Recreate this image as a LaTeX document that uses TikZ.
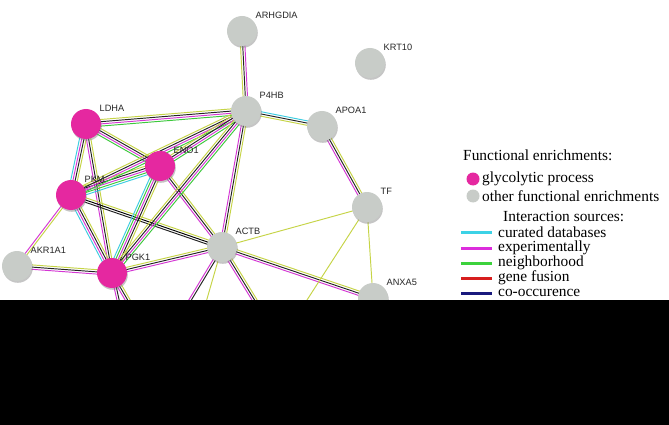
\documentclass[tikz,border=0pt]{standalone}
\usepackage{fontspec}
\setmainfont{Liberation Serif}
\newfontfamily\lblfont{Liberation Sans}
\usetikzlibrary{calc,shadows,backgrounds}
\definecolor{nodeMag}{RGB}{229,40,160}
\definecolor{nodeGrey}{RGB}{200,204,200}
\definecolor{eCyan}{RGB}{60,205,225}
\definecolor{eMag}{RGB}{212,55,212}
\definecolor{eGreen}{RGB}{60,200,60}
\definecolor{eYel}{RGB}{198,212,70}
\definecolor{eBlk}{RGB}{35,35,35}
\definecolor{lCyan}{RGB}{60,210,230}
\definecolor{lMag}{RGB}{220,45,220}
\definecolor{lGreen}{RGB}{60,210,60}
\definecolor{lRed}{RGB}{215,30,30}
\definecolor{lBlue}{RGB}{25,25,125}
\newcommand\linkbundle[3]{%
  \foreach \cc [count=\ii] in {#3} {\xdef\bundlen{\ii}}%
  \foreach \cc [count=\ii] in {#3} {%
    \pgfmathsetmacro\offs{(\ii-(\bundlen+1)/2)*2.2}%
    \draw[eline, draw=\cc] ($(#1.center)!\offs pt!90:(#2.center)$) -- ($(#2.center)!\offs pt!-90:(#1.center)$);
  }%
}
\begin{document}
\begin{tikzpicture}[x=1pt,y=-1pt,
  gene/.style={circle, minimum size=30pt, inner sep=0pt,
    drop shadow={shadow xshift=0.8pt, shadow yshift=-1.8pt, opacity=0.45}},
  glyco/.style={gene, fill=nodeMag},
  other/.style={gene, fill=nodeGrey},
  lbl/.style={font=\lblfont\fontsize{9.2}{11}\selectfont, anchor=west, inner sep=0pt, text=black!85},
  leg/.style={font=\fontsize{15.4}{17}\selectfont, anchor=west, inner sep=0pt},
  eline/.style={line width=0.95pt},
  legline/.style={line width=3pt},
  legdot/.style={circle, minimum size=13pt, inner sep=0pt}]
\useasboundingbox (0,0) rectangle (669,425);
% nodes
\node[other] (ARHGDIA) at (242,31) {};
\node[other] (KRT10) at (370,63) {};
\node[other] (P4HB) at (246,111) {};
\node[other] (APOA1) at (322,126) {};
\node[glyco] (LDHA) at (86,124) {};
\node[glyco] (ENO1) at (160,166) {};
\node[glyco] (PKM) at (71,195) {};
\node[other] (AKR1A1) at (17,266) {};
\node[glyco] (PGK1) at (112,273) {};
\node[other] (ACTB) at (222,247) {};
\node[other] (TF) at (367,207) {};
\node[other] (ANXA5) at (373,298) {};
\coordinate (offTF) at (287,331);
\coordinate (offA1) at (172,330);
\coordinate (offA2) at (198,330);
\coordinate (offA3) at (273,330);
\coordinate (offP1) at (127,340);
\coordinate (offP2) at (148,335);
% labels
\foreach \n in {ARHGDIA,KRT10,P4HB,APOA1,LDHA,ENO1,PKM,AKR1A1,PGK1,ACTB,TF,ANXA5}
  \node[lbl] (\n-t) at ($(\n.center)+(13.5,-15.5)$) {\n};
% edges
\begin{pgfonlayer}{background}
\fill[white] (0,0) rectangle (669,425);
\linkbundle{ARHGDIA}{P4HB}{eYel,eBlk,eMag}
\linkbundle{P4HB}{APOA1}{eYel,eBlk,eCyan}
\linkbundle{APOA1}{TF}{eMag,eBlk,eYel}
\linkbundle{LDHA}{P4HB}{eGreen,eMag,eBlk,eYel}
\linkbundle{LDHA}{ENO1}{eGreen,eMag,eBlk,eYel}
\linkbundle{LDHA}{PKM}{eCyan,eMag,eBlk,eYel}
\linkbundle{LDHA}{PGK1}{eMag,eBlk,eYel}
\linkbundle{PKM}{ENO1}{eCyan,eGreen,eMag,eBlk,eYel}
\linkbundle{PKM}{P4HB}{eGreen,eMag,eBlk,eYel}
\linkbundle{ENO1}{P4HB}{eGreen,eMag,eBlk,eYel}
\linkbundle{PKM}{PGK1}{eCyan,eMag,eBlk,eYel}
\linkbundle{PKM}{AKR1A1}{eMag,eYel}
\linkbundle{PKM}{ACTB}{eBlk,,eYel}
\linkbundle{ENO1}{PGK1}{eCyan,eGreen,eMag,eBlk,eYel}
\linkbundle{ENO1}{ACTB}{eMag,eBlk,eYel}
\linkbundle{PGK1}{P4HB}{eGreen,eMag,eBlk,eYel}
\linkbundle{P4HB}{ACTB}{eMag,eBlk,eYel}
\linkbundle{PGK1}{ACTB}{eMag,eBlk,eYel}
\linkbundle{AKR1A1}{PGK1}{eMag,eBlk,eYel}
\linkbundle{ACTB}{TF}{eYel}
\linkbundle{ACTB}{ANXA5}{eMag,eBlk,eYel}
\linkbundle{TF}{ANXA5}{eYel}
\linkbundle{TF}{offTF}{eYel}
\linkbundle{ACTB}{offA1}{eMag,eBlk}
\linkbundle{ACTB}{offA2}{eYel}
\linkbundle{ACTB}{offA3}{eMag,eBlk,eYel}
\linkbundle{PGK1}{offP1}{eMag,eBlk}
\linkbundle{PGK1}{offP2}{eMag,eBlk,eYel}
\end{pgfonlayer}
% black lower band
\fill[black] (0,300) rectangle (669,425);
% legend
\node[leg] (legF) at (463,155) {Functional enrichments:};
\node[legdot, fill=nodeMag] (legD1) at (473,179) {};
\node[leg] (legG) at (482,179) {glycolytic process};
\node[legdot, fill=nodeGrey] (legD2) at (473,196) {};
\node[leg] (legO) at (482,196) {other functional enrichments};
\node[leg] (legI) at (503,217) {Interaction sources:};
\foreach \y/\c/\t/\k in {232/lCyan/curated databases/a, 248/lMag/experimentally/b, 263/lGreen/neighborhood/c, 278/lRed/gene fusion/d, 293/lBlue/co-occurence/e} {
  \coordinate (ls\k) at (461,\y);
  \coordinate (le\k) at (492,\y);
  \draw[legline, draw=\c] (ls\k) -- (le\k);
  \node[leg] (lt\k) at (498,\y) {\t};
}
\end{tikzpicture}
\end{document}
